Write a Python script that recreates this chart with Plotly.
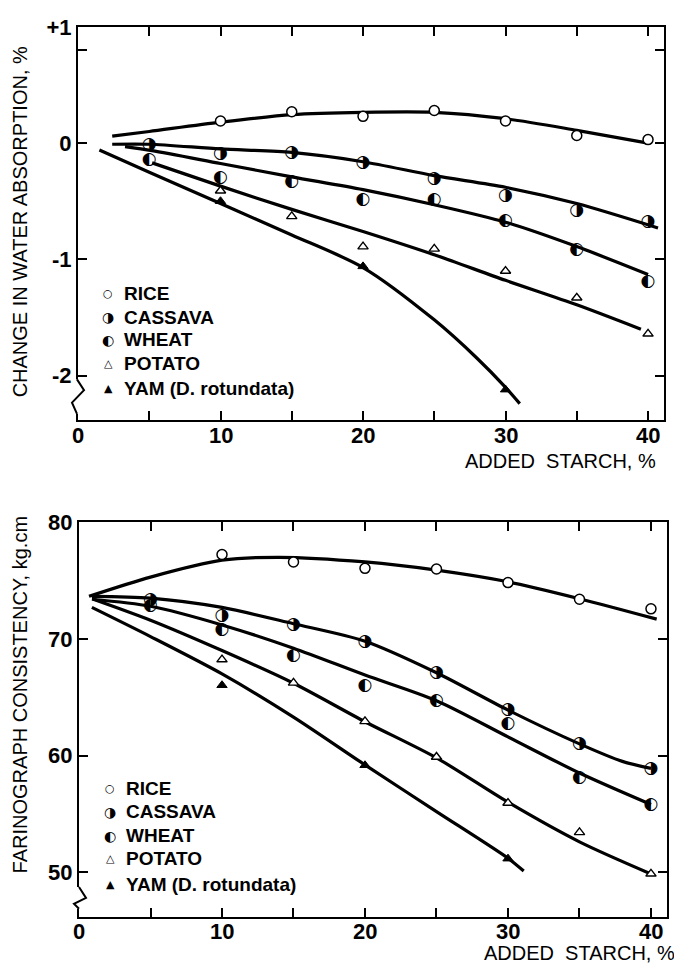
import plotly.graph_objects as go

W, H = 674, 967

# ---------------- DATA: top panel (change in water absorption, %) ----------------
starch_pts = [5, 10, 15, 20, 25, 30, 35, 40]
rice_x_top = [10, 15, 20, 25, 30, 35, 40]
rice_y_top = [0.19, 0.27, 0.23, 0.28, 0.19, 0.065, 0.03]
cassava_y_top = [-0.01, -0.09, -0.08, -0.17, -0.31, -0.455, -0.58, -0.675]
wheat_y_top = [-0.14, -0.30, -0.33, -0.49, -0.49, -0.667, -0.92, -1.195]
potato_x_top = [10, 15, 20, 25, 30, 35, 40]
potato_y_top = [-0.41, -0.63, -0.89, -0.91, -1.10, -1.33, -1.64]
yam_x_top = [10, 20, 30]
yam_y_top = [-0.50, -1.06, -2.12]

# fitted curves (top)
rice_cx_top = [2.4, 5, 10, 15, 20, 25, 30, 35, 40]
rice_cy_top = [0.06, 0.10, 0.18, 0.245, 0.265, 0.265, 0.21, 0.11, 0.0]
cassava_cx_top = [2.4, 5, 10, 15, 20, 25, 30, 35, 40.7]
cassava_cy_top = [-0.01, -0.01, -0.05, -0.08, -0.16, -0.28, -0.38, -0.52, -0.73]
wheat_cx_top = [3.3, 5.2, 10, 15, 20, 25, 30, 35, 40]
wheat_cy_top = [-0.03, -0.065, -0.175, -0.29, -0.40, -0.53, -0.68, -0.89, -1.13]
potato_cx_top = [5.2, 10, 15, 20, 25, 30, 35, 39.5]
potato_cy_top = [-0.17, -0.37, -0.57, -0.76, -0.96, -1.18, -1.39, -1.6]
yam_cx_top = [1.5, 5, 10, 15, 20, 25, 28, 30, 31]
yam_cy_top = [-0.06, -0.25, -0.52, -0.79, -1.07, -1.52, -1.85, -2.1, -2.24]

# ---------------- DATA: bottom panel (farinograph consistency, kg.cm) ----------------
rice_x_bot = [10, 15, 20, 25, 30, 35, 40]
rice_y_bot = [77.24, 76.6, 76.05, 75.99, 74.83, 73.4, 72.58]
cassava_y_bot = [73.37, 71.96, 71.25, 69.79, 67.08, 63.91, 61.03, 58.83]
wheat_y_bot = [72.86, 70.75, 68.52, 66.0, 64.71, 62.70, 58.13, 55.82]
potato_x_bot = [10, 15, 20, 25, 30, 35, 40]
potato_y_bot = [68.23, 66.23, 62.93, 59.88, 55.93, 53.41, 49.86]
yam_x_bot = [10, 20, 30]
yam_y_bot = [66.03, 59.17, 51.16]

rice_cx_bot = [0.7, 5, 10, 14, 20, 25, 30, 35, 40.4]
rice_cy_bot = [73.65, 75.3, 76.75, 77.0, 76.6, 75.9, 74.9, 73.45, 71.7]
cassava_cx_bot = [0.9, 5, 10, 15, 20, 25, 30, 35, 38, 40]
cassava_cy_bot = [73.65, 73.5, 72.7, 71.3, 69.8, 67.1, 63.9, 61.0, 59.5, 58.9]
wheat_cx_bot = [0.9, 5, 10, 15, 20, 25, 30, 35, 40]
wheat_cy_bot = [73.4, 72.8, 71.2, 69.2, 66.9, 64.7, 61.6, 58.5, 55.8]
potato_cx_bot = [1, 5, 10, 15, 20, 25, 30, 35, 40]
potato_cy_bot = [73.4, 71.6, 69.0, 66.2, 62.9, 59.8, 56.0, 52.6, 49.85]
yam_cx_bot = [0.9, 5, 10, 15, 20, 25, 30, 31.1]
yam_cy_bot = [72.7, 70.2, 67.0, 63.3, 59.2, 55.2, 51.2, 50.1]

legend_labels = ["RICE", "CASSAVA", "WHEAT", "POTATO", "YAM (D. rotundata)"]
legend_glyphs = ["○", "◑", "◐", "△", "▲"]

x_ticks = [0, 10, 20, 30, 40]
x_ticktext = ["0", "10", "20", "30", "40"]
top_ticks = [-2, -1, 0, 0.8, 1]
top_ticktext = ["-2", "-1", "0", "", "+1"]
bot_ticks = [50, 60, 70, 80]

# ---------------- FIGURE ----------------
def px_x(p):
    return p / W

def px_y(p):
    return 1 - p / H

fig = go.Figure()
LW = 3.2
BLACK = "black"


def add_panel(xa, ya, curves, rice, half, potato, yam):
    for cx, cy in curves:
        fig.add_trace(go.Scatter(x=cx, y=cy, mode="lines", line=dict(color=BLACK, width=LW, shape="spline", smoothing=0.8),
                                 xaxis=xa, yaxis=ya, showlegend=False, hoverinfo="skip"))
    fig.add_trace(go.Scatter(x=rice[0], y=rice[1], mode="markers",
                             marker=dict(symbol="circle", size=10, color="white", line=dict(color=BLACK, width=1.5)),
                             xaxis=xa, yaxis=ya, showlegend=False))
    fig.add_trace(go.Scatter(x=potato[0], y=potato[1], mode="markers",
                             marker=dict(symbol="triangle-up", size=9, color="white", line=dict(color=BLACK, width=1.4)),
                             xaxis=xa, yaxis=ya, showlegend=False))
    fig.add_trace(go.Scatter(x=yam[0], y=yam[1], mode="markers",
                             marker=dict(symbol="triangle-up", size=9, color=BLACK, line=dict(color=BLACK, width=1)),
                             xaxis=xa, yaxis=ya, showlegend=False))
    for (hx, hy), glyph in half:
        fig.add_trace(go.Scatter(x=hx, y=hy, mode="text", text=[glyph] * len(hx), textposition="middle center",
                                 textfont=dict(family="DejaVu Sans", size=17, color=BLACK),
                                 xaxis=xa, yaxis=ya, showlegend=False))


add_panel("x", "y",
          [(rice_cx_top, rice_cy_top), (cassava_cx_top, cassava_cy_top), (wheat_cx_top, wheat_cy_top),
           (potato_cx_top, potato_cy_top), (yam_cx_top, yam_cy_top)],
          (rice_x_top, rice_y_top),
          [((starch_pts, cassava_y_top), legend_glyphs[1]), ((starch_pts, wheat_y_top), legend_glyphs[2])],
          (potato_x_top, potato_y_top), (yam_x_top, yam_y_top))

add_panel("x2", "y2",
          [(rice_cx_bot, rice_cy_bot), (cassava_cx_bot, cassava_cy_bot), (wheat_cx_bot, wheat_cy_bot),
           (potato_cx_bot, potato_cy_bot), (yam_cx_bot, yam_cy_bot)],
          (rice_x_bot, rice_y_bot),
          [((starch_pts, cassava_y_bot), legend_glyphs[1]), ((starch_pts, wheat_y_bot), legend_glyphs[2])],
          (potato_x_bot, potato_y_bot), (yam_x_bot, yam_y_bot))

tickfont = dict(family="Liberation Sans", size=22, color=BLACK, weight="bold")
common_axis = dict(showline=True, linecolor=BLACK, linewidth=2, mirror="ticks", ticks="inside",
                   ticklen=9, tickwidth=2, tickcolor=BLACK, showgrid=False, zeroline=False,
                   tickfont=tickfont, fixedrange=True)
minor = dict(dtick=5, tick0=0, ticks="inside", ticklen=9, tickwidth=2, tickcolor=BLACK)

fig.update_layout(
    width=W, height=H, margin=dict(l=0, r=0, t=0, b=0),
    paper_bgcolor="white", plot_bgcolor="white", showlegend=False,
    xaxis=dict(domain=[px_x(78), px_x(664)], anchor="y", range=[0, 41.12], tickvals=x_ticks,
               showticklabels=False, minor=minor, **common_axis),
    yaxis=dict(domain=[px_y(413), px_y(15)], anchor="x", range=[-2.38, 1.0], tickvals=top_ticks,
               ticktext=top_ticktext, **common_axis),
    xaxis2=dict(domain=[px_x(79), px_x(667)], anchor="y2", range=[0, 41.12], tickvals=x_ticks,
                showticklabels=False, minor=minor, **common_axis),
    yaxis2=dict(domain=[px_y(916.7), px_y(516.7)], anchor="x2", range=[46.13, 80], tickvals=bot_ticks, **common_axis),
)

ann = []
# x tick labels (placed close under the axis as in the reference)
for xref, ypix in [("x", 429), ("x2", 931)]:
    for v, t in zip(x_ticks, x_ticktext):
        ann.append(dict(text=t, x=v, y=px_y(ypix), xref=xref, yref="paper", showarrow=False,
                        font=tickfont, xanchor="center", yanchor="middle"))
# axis titles
ann.append(dict(text="CHANGE IN WATER ABSORPTION, %", x=px_x(20), y=px_y(213), xref="paper", yref="paper",
                textangle=-90, showarrow=False, font=dict(family="Liberation Sans", size=20, color=BLACK),
                xanchor="center", yanchor="middle"))
ann.append(dict(text="FARINOGRAPH CONSISTENCY, kg.cm", x=px_x(20), y=px_y(692), xref="paper", yref="paper",
                textangle=-90, showarrow=False, font=dict(family="Liberation Sans", size=20, color=BLACK),
                xanchor="center", yanchor="middle"))
ann.append(dict(text="ADDED  STARCH, %", x=px_x(658), y=px_y(455), xref="paper", yref="paper",
                showarrow=False, font=dict(family="Liberation Sans", size=20, color=BLACK),
                xanchor="right", yanchor="middle"))
ann.append(dict(text="ADDED  STARCH, %", x=px_x(677), y=px_y(953), xref="paper", yref="paper",
                showarrow=False, font=dict(family="Liberation Sans", size=20, color=BLACK),
                xanchor="right", yanchor="middle"))

# legends
for rows, gx, tx in [([285, 309, 332, 356, 381], 108, 122), ([786, 810, 834, 857, 883], 110, 124)]:
    for ry, glyph, label in zip(rows, legend_glyphs, legend_labels):
        gsize = 14 if glyph in ("◑", "◐") else 11
        ann.append(dict(text=glyph, x=px_x(gx), y=px_y(ry), xref="paper", yref="paper", showarrow=False,
                        font=dict(family="DejaVu Sans", size=gsize, color=BLACK), xanchor="center", yanchor="middle"))
        ann.append(dict(text=label, x=px_x(tx), y=px_y(ry), xref="paper", yref="paper", showarrow=False,
                        font=dict(family="Liberation Sans", size=19, color=BLACK, weight="bold"),
                        xanchor="left", yanchor="middle"))
fig.update_layout(annotations=ann)

# axis break marks (decorative)
shapes = []
for ax_x, y0, y1 in [(77, 372, 407), (79, 886, 908)]:
    shapes.append(dict(type="rect", xref="paper", yref="paper", x0=px_x(ax_x - 3), x1=px_x(ax_x + 3),
                       y0=px_y(y1), y1=px_y(y0), fillcolor="white", line=dict(width=0), layer="above"))
    ym = (y0 + y1) / 2
    pts = [(ax_x, y0), (ax_x + 7, y0 + 11), (ax_x - 5, ym + 6), (ax_x, y1)]
    path = "M " + " L ".join(f"{px_x(a):.5f},{px_y(b):.5f}" for a, b in pts)
    shapes.append(dict(type="path", xref="paper", yref="paper", path=path,
                       line=dict(color=BLACK, width=2), layer="above"))
fig.update_layout(shapes=shapes)

fig.write_html("out.html")
